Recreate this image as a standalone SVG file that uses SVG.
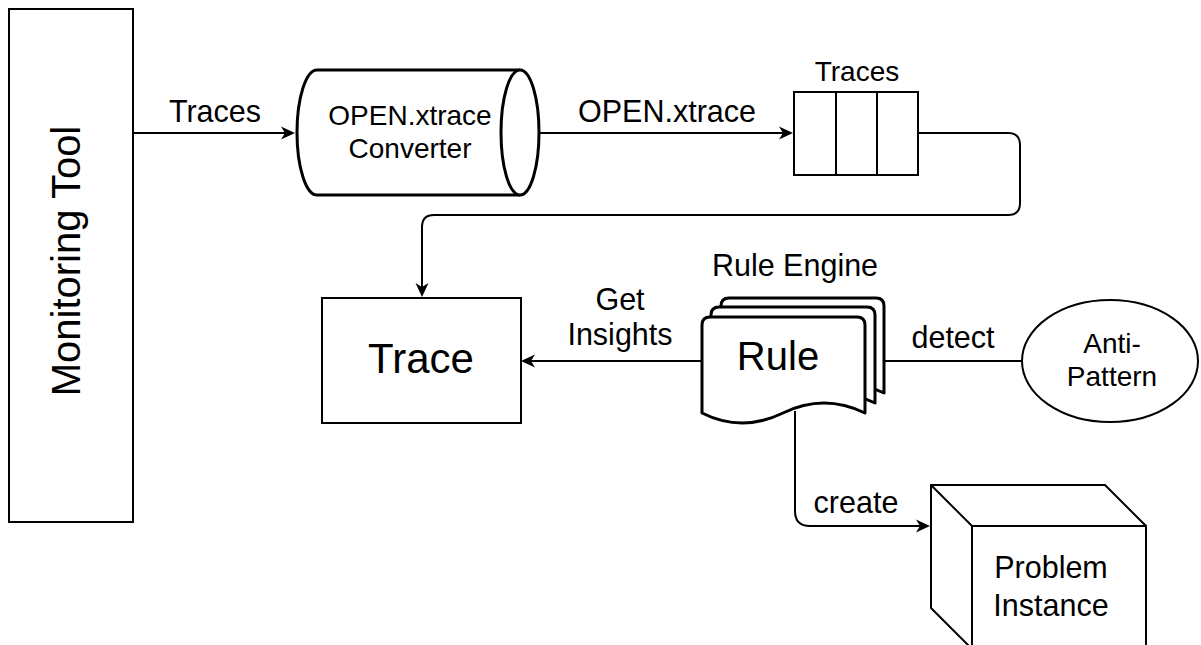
<svg xmlns="http://www.w3.org/2000/svg" width="1201" height="645" viewBox="0 0 1201 645">
<style>
  .shape { fill: #ffffff; stroke: #000000; stroke-width: 2; }
  .thick { fill: #ffffff; stroke: #000000; stroke-width: 3; stroke-linejoin: round; }
  .conn { fill: none; stroke: #000000; stroke-width: 2; }
  .t { font-family: "Liberation Sans", Arial, sans-serif; fill: #000000; text-anchor: middle; }
  .s { font-size: 28px; }
  .m { font-size: 30.5px; }
  .l { font-size: 40px; }
</style>
<defs>
  <marker id="arrow" viewBox="-15 -8 16 16" refX="-4" refY="0" markerWidth="16" markerHeight="16" markerUnits="userSpaceOnUse" orient="auto">
    <path d="M0,0 L-14,-6.5 L-10,0 L-14,6.5 Z" fill="#000000" stroke="none"/>
  </marker>
</defs>
<rect width="1201" height="645" fill="#ffffff"/>

<g id="monitoring-tool">
  <rect class="shape" x="9" y="9" width="124" height="513"/>
  <text class="t l" transform="translate(80,261) rotate(-90)">Monitoring Tool</text>
</g>

<g id="converter">
  <path class="thick" d="M520,70 H317 A20,62.5 0 0 0 317,195 H520 A19,62.5 0 0 0 520,70 Z"/>
  <path class="thick" fill="none" d="M520,70 A19,62.5 0 0 0 520,195"/>
  <text class="t s" x="410" y="125">OPEN.xtrace</text>
  <text class="t s" x="410" y="158">Converter</text>
</g>

<g id="traces-queue">
  <rect class="shape" x="794" y="92" width="124" height="83"/>
  <line class="conn" x1="836" y1="92" x2="836" y2="175"/>
  <line class="conn" x1="877" y1="92" x2="877" y2="175"/>
  <text class="t s" x="857" y="81">Traces</text>
</g>

<g id="trace">
  <rect class="shape" x="322" y="298" width="199" height="125"/>
  <text class="t l" style="font-size:42px" x="421" y="373">Trace</text>
</g>

<g id="rule-engine">
  <path class="thick" d="M729,298 H876 Q884,298 884,306 V393 Q843,373 803,393 Q762,413 721,393 V306 Q721,298 729,298 Z"/>
  <path class="thick" d="M719,307 H867 Q875,307 875,315 V403 Q834,383 794,403 Q753,423 711,403 V315 Q711,307 719,307 Z"/>
  <path class="thick" d="M710,317 H857 Q865,317 865,325 V413 Q824,393 783,413 Q742,433 702,413 V325 Q702,317 710,317 Z"/>
  <text class="t l" x="778" y="370">Rule</text>
  <text class="t m" x="795" y="276">Rule Engine</text>
</g>

<g id="anti-pattern">
  <ellipse class="shape" cx="1110" cy="361" rx="88" ry="61"/>
  <text class="t s" x="1112" y="353">Anti-</text>
  <text class="t s" x="1112" y="386">Pattern</text>
</g>

<g id="problem-instance">
  <path class="shape" d="M931,485 H1105 L1146,526 V649 H972 L931,608 Z"/>
  <path class="conn" d="M931,485 L972,526 H1146 M972,526 V649"/>
  <text class="t m" x="1051" y="578">Problem</text>
  <text class="t m" x="1051" y="616">Instance</text>
</g>

<g id="connectors">
  <path class="conn" d="M133,133 H291" marker-end="url(#arrow)"/>
  <text class="t m" x="215" y="122">Traces</text>
  <path class="conn" d="M540,133 H789" marker-end="url(#arrow)"/>
  <text class="t m" x="667" y="122">OPEN.xtrace</text>
  <path class="conn" d="M918,133 H1008 Q1020,133 1020,145 V203 Q1020,215 1008,215 H434 Q422,215 422,227 V293" marker-end="url(#arrow)"/>
  <path class="conn" d="M702,361 H525" marker-end="url(#arrow)"/>
  <text class="t m" x="620" y="310">Get</text>
  <text class="t m" x="620" y="345">Insights</text>
  <path class="conn" d="M884,361 H1022"/>
  <text class="t m" x="953" y="348">detect</text>
  <path class="conn" d="M795,411 V511 Q795,526 810,526 H926" marker-end="url(#arrow)"/>
  <text class="t m" x="856" y="513">create</text>
</g>
</svg>
